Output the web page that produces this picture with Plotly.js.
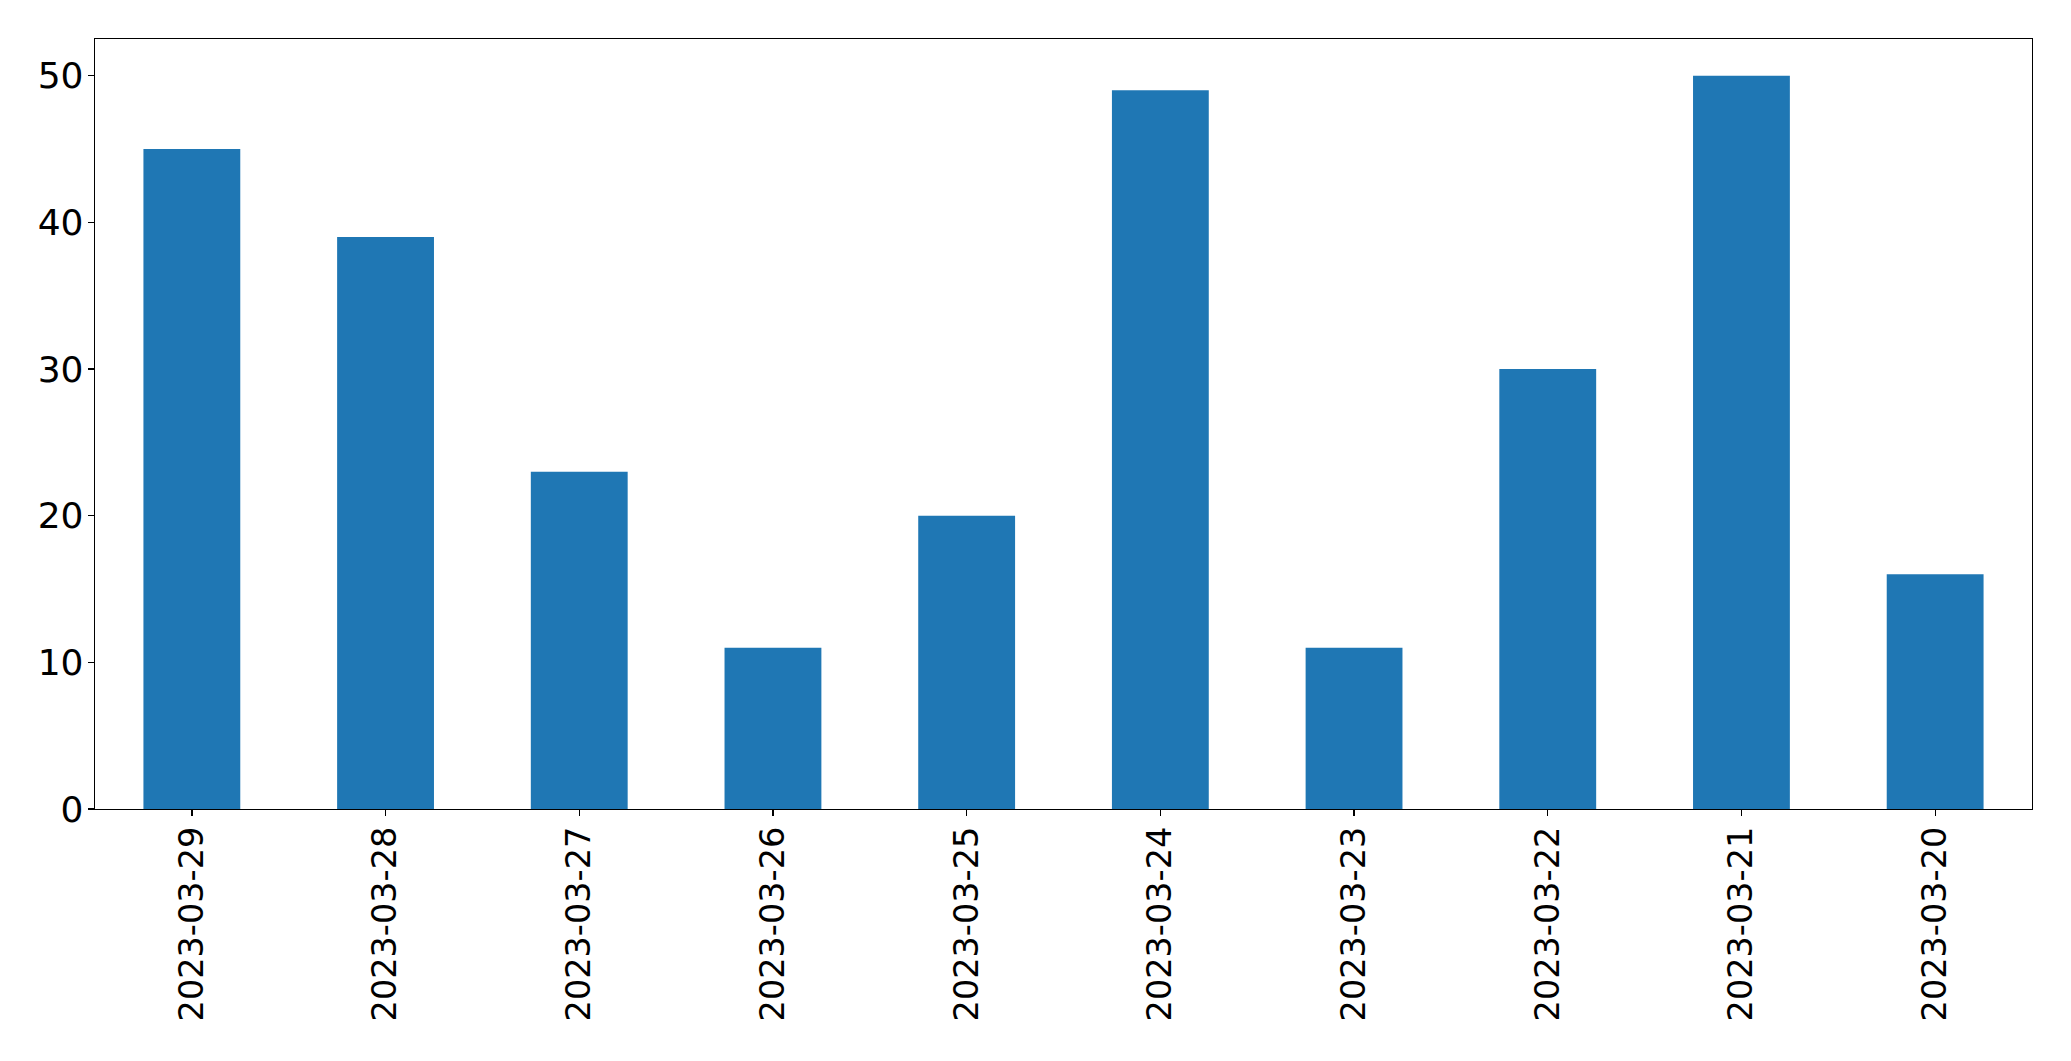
<!DOCTYPE html>
<html>
<head>
<meta charset="utf-8">
<script src="https://cdn.plot.ly/plotly-3.0.1.min.js"></script>
<style>html,body{margin:0;padding:0;background:#fff;}#chart{width:2071px;height:1061px;}</style>
</head>
<body>
<div id="chart"></div>
<script>
const dates = ["2023-03-29","2023-03-28","2023-03-27","2023-03-26","2023-03-25","2023-03-24","2023-03-23","2023-03-22","2023-03-21","2023-03-20"];
const counts = [45, 39, 23, 11, 20, 49, 11, 30, 50, 16];
const yTicks = [0, 10, 20, 30, 40, 50];

const trace = {
  type: 'bar',
  x: dates,
  y: counts,
  width: 0.5,
  marker: {color: '#1f77b4', line: {width: 0}},
  hoverinfo: 'x+y'
};

const xfont = {family: 'DejaVu Sans, sans-serif', size: 33.5, color: '#000'};
const yfont = {family: 'DejaVu Sans, sans-serif', size: 36, color: '#000'};

const layout = {
  width: 2071,
  height: 1061,
  margin: {l: 95, r: 39, t: 39, b: 252, pad: 0},
  paper_bgcolor: '#fff',
  plot_bgcolor: '#fff',
  showlegend: false,
  font: yfont,
  bargap: 0.5,
  xaxis: {
    type: 'category',
    range: [-0.5, 9.5],
    tickangle: -90,
    ticks: 'outside',
    ticklen: 6,
    tickwidth: 1.3,
    tickcolor: '#000',
    ticklabelstandoff: -3,
    showline: true,
    linecolor: '#000',
    linewidth: 1.3,
    mirror: true,
    showgrid: false,
    zeroline: false,
    tickfont: xfont,
    automargin: false
  },
  yaxis: {
    range: [0, 52.5],
    tickmode: 'array',
    tickvals: yTicks,
    ticktext: yTicks.map(String),
    ticks: 'outside',
    ticklen: 6,
    tickwidth: 1.3,
    tickcolor: '#000',
    ticklabelstandoff: -3,
    showline: true,
    linecolor: '#000',
    linewidth: 1.3,
    mirror: true,
    showgrid: false,
    zeroline: false,
    tickfont: yfont,
    automargin: false
  }
};

Plotly.newPlot('chart', [trace], layout, {displayModeBar: false, staticPlot: true});
</script>
</body>
</html>
